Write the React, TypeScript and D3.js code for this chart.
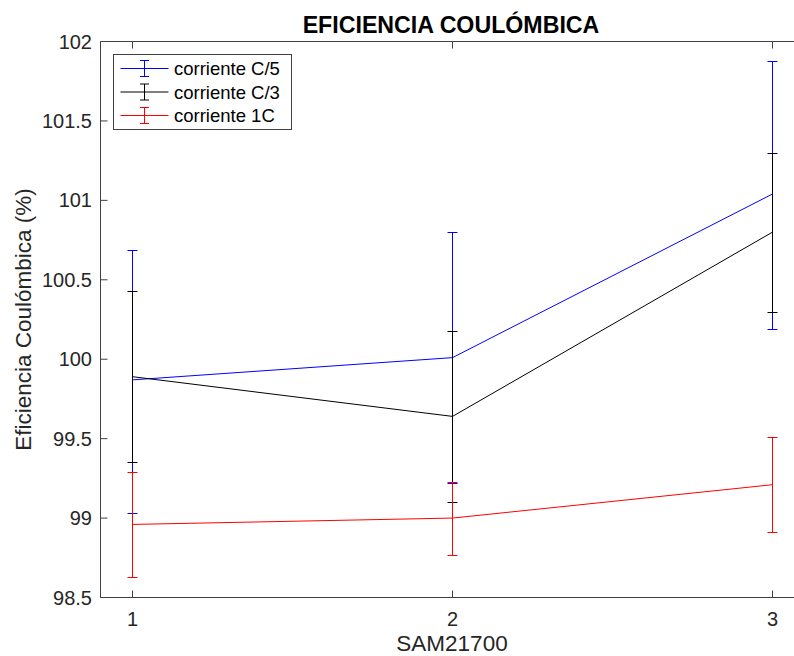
import React from "react";
import * as d3 from "d3";

const categories = [1, 2, 3];
const seriesNames = ["corriente C/5", "corriente C/3", "corriente 1C"];
const seriesColors = ["#0000ff", "#000000", "#ff0000"];
const meanC5 = [99.87, 100.01, 101.04];
const upperC5 = [100.69, 100.8, 101.88];
const lowerC5 = [99.03, 99.22, 100.19];
const meanC3 = [99.89, 99.64, 100.8];
const upperC3 = [100.43, 100.18, 101.3];
const lowerC3 = [99.35, 99.1, 100.3];
const mean1C = [98.96, 99.0, 99.21];
const upper1C = [99.29, 99.23, 99.51];
const lower1C = [98.63, 98.77, 98.91];
const yTicks = [98.5, 99, 99.5, 100, 100.5, 101, 101.5, 102];
const xTicks = [1, 2, 3];
const title = "EFICIENCIA COULÓMBICA";
const xLabel = "SAM21700";
const yLabel = "Eficiencia Coulómbica (%)";

const W = 794;
const H = 656;
const FONT = "'Liberation Sans', Arial, Helvetica, sans-serif";
const AXIS = "#404040";

export default function App() {
  const x = d3.scaleLinear().domain([0.9, 3.1]).range([100.5, 804.5]);
  const y = d3.scaleLinear().domain([98.5, 102]).range([597.5, 41.5]);
  const series = [
    { mean: meanC5, up: upperC5, lo: lowerC5 },
    { mean: meanC3, up: upperC3, lo: lowerC3 },
    { mean: mean1C, up: upper1C, lo: lower1C },
  ];
  const line = d3
    .line<number>()
    .x((_, i) => x(categories[i]))
    .y((d) => y(d));
  const cap = 5;
  const tickLen = 7;
  const [x0, x1] = x.range();
  const [yb, yt] = y.range();

  return (
    <svg
      width={W}
      height={H}
      style={{ position: "fixed", left: 0, top: 0, background: "#fff" }}
      fontFamily={FONT}
    >
      <rect x={0} y={0} width={W} height={H} fill="#fff" />
      {/* data */}
      {series.map((s, si) => (
        <g key={si} stroke={seriesColors[si]} fill="none" strokeWidth={1}>
          <path d={line(s.mean) || ""} />
          {categories.map((c, i) => {
            const cx = x(c);
            const yu = Math.round(y(s.up[i])) + 0.5;
            const yl = Math.round(y(s.lo[i])) + 0.5;
            return (
              <g key={i}>
                <line x1={cx} x2={cx} y1={yu} y2={yl} />
                <line x1={cx - cap} x2={cx + cap} y1={yu} y2={yu} />
                <line x1={cx - cap} x2={cx + cap} y1={yl} y2={yl} />
              </g>
            );
          })}
        </g>
      ))}
      {/* axes box */}
      <g stroke={AXIS} strokeWidth={1} fill="none">
        <line x1={x0} x2={x1} y1={yb} y2={yb} />
        <line x1={x0} x2={x1} y1={yt} y2={yt} />
        <line x1={x0} x2={x0} y1={yt} y2={yb} />
        {xTicks.map((t) => (
          <g key={t}>
            <line x1={x(t)} x2={x(t)} y1={yb} y2={yb - tickLen} />
            <line x1={x(t)} x2={x(t)} y1={yt} y2={yt + tickLen} />
          </g>
        ))}
        {yTicks.map((t) => (
          <line key={t} x1={x0} x2={x0 + tickLen} y1={y(t)} y2={y(t)} />
        ))}
      </g>
      {/* tick labels */}
      <g fontSize={20} fill="#262626">
        {xTicks.map((t) => (
          <text key={t} x={x(t)} y={626} textAnchor="middle">
            {t}
          </text>
        ))}
        {yTicks.map((t) => (
          <text key={t} x={92} y={y(t) + 7} textAnchor="end">
            {t}
          </text>
        ))}
      </g>
      {/* labels */}
      <text x={452} y={651} textAnchor="middle" fontSize={22.5} fill="#262626">
        {xLabel}
      </text>
      <text
        transform={`translate(31,${(yt + yb) / 2}) rotate(-90)`}
        textAnchor="middle"
        fontSize={22.5}
        fill="#262626"
      >
        {yLabel}
      </text>
      <text x={451} y={33} textAnchor="middle" fontSize={23.2} fontWeight="bold" fill="#000">
        {title}
      </text>
      {/* legend */}
      <g>
        <rect x={113.5} y={54.5} width={178} height={75} fill="#fff" stroke={AXIS} strokeWidth={1} />
        {seriesNames.map((name, i) => {
          const ly = 68.5 + i * 23.5;
          return (
            <g key={name}>
              <g stroke={seriesColors[i]} strokeWidth={1}>
                <line x1={120.5} x2={168.5} y1={ly} y2={ly} />
                <line x1={144.5} x2={144.5} y1={ly - 8} y2={ly + 8} />
                <line x1={140} x2={149} y1={ly - 8} y2={ly - 8} />
                <line x1={140} x2={149} y1={ly + 8} y2={ly + 8} />
              </g>
              <text x={174} y={ly + 6.5} fontSize={18.5} fill="#000">
                {name}
              </text>
            </g>
          );
        })}
      </g>
    </svg>
  );
}
